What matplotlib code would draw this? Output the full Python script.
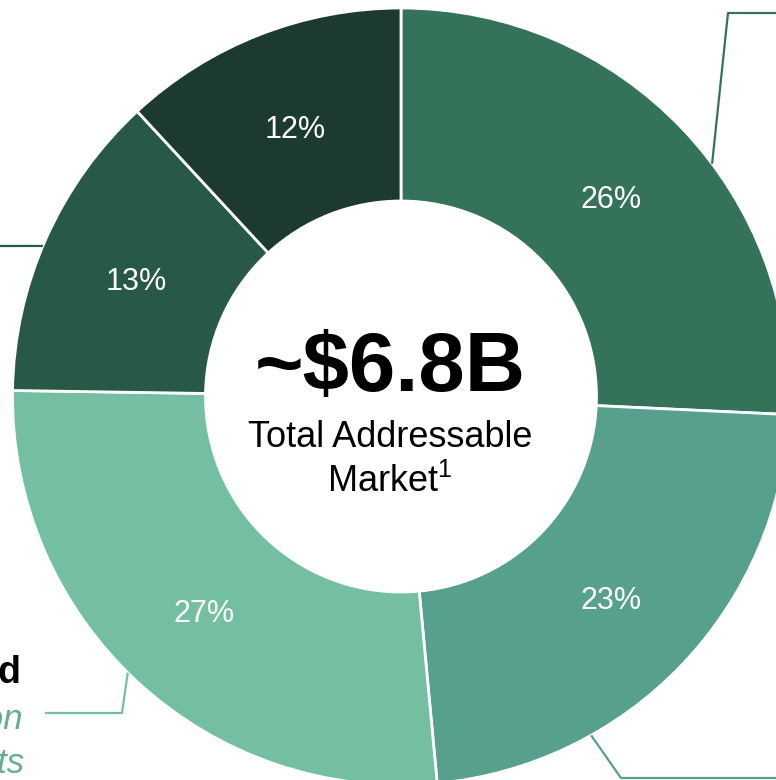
import matplotlib
matplotlib.use("Agg")
import matplotlib.pyplot as plt
import numpy as np

plt.rcParams['font.family'] = ['Liberation Sans', 'DejaVu Sans']
plt.rcParams['mathtext.fontset'] = 'custom'
plt.rcParams['mathtext.rm'] = 'Liberation Sans'

# ---- data ----
segments = ["Segment A", "Segment B", "Segment C", "Segment D", "Segment E"]
shares = [26, 23, 27, 13, 12]
share_labels = [f"{v}%" for v in shares]
colors = ["#34735A", "#57A08E", "#74BFA2", "#285846", "#1C3A2E"]
total_label = "~$6.8B"
sub_label_1 = "Total Addressable"
sub_label_2 = r"Market$^{\mathrm{1}}$"
side_title = "Branded"
side_lines = ["Nutrition", "Supplements"]

W, H = 776, 780
fig = plt.figure(figsize=(W / 100, H / 100), dpi=100)
ax = fig.add_axes([0, 0, 1, 1])

cx, cy = 401, H - 396.5
R, r = 388.5, 195.5

it = iter(share_labels)
wedges, _, autotexts = ax.pie(
    shares, colors=colors, startangle=90, counterclock=False,
    radius=R, center=(cx, cy),
    wedgeprops=dict(width=R - r, edgecolor="white", linewidth=2),
    autopct=lambda p: next(it), pctdistance=0.747,
    textprops=dict(color="white", fontsize=22),
)
for t in autotexts:
    x, y = t.get_position()
    t.set_position((x, y - 4))

ax.set_xlim(0, W)
ax.set_ylim(0, H)
ax.set_aspect('auto')
ax.axis('off')

# centre text
ax.text(390, H - 391, total_label, ha="center", va="baseline",
        fontsize=60, fontweight="bold", color="black")
ax.text(390, H - 447, sub_label_1, ha="center", va="baseline",
        fontsize=26, color="black")
ax.text(390, H - 492, sub_label_2, ha="center", va="baseline",
        fontsize=26, color="black")

# leader lines (anchor angle on outer edge, then elbow points in px)
def on_edge(angle_deg):
    a = np.deg2rad(angle_deg)
    return cx + R * np.cos(a), cy + R * np.sin(a)

leaders = [
    (36.8, [(728, 13), (780, 13)], colors[0]),
    (-60.7, [(621, 778), (780, 778)], colors[1]),
    (225.3, [(122, 713), (45, 713)], colors[2]),
    (157.2, [(-5, 246)], colors[3]),
]
for ang, pts, col in leaders:
    x0, y0 = on_edge(ang)
    xs = [x0] + [p[0] for p in pts]
    ys = [y0] + [H - p[1] for p in pts]
    ax.plot(xs, ys, color=col, lw=1.6, solid_capstyle="butt", clip_on=False)

# partially visible side annotation
ax.text(21, H - 683, side_title, ha="right", va="baseline",
        fontsize=27, fontweight="bold", color="black")
for i, line in enumerate(side_lines):
    ax.text(24, H - (729 + 44 * i), line, ha="right", va="baseline",
            fontsize=25, fontstyle="italic", color="#67AD92")

fig.savefig("out.png", dpi=100, facecolor="white")
